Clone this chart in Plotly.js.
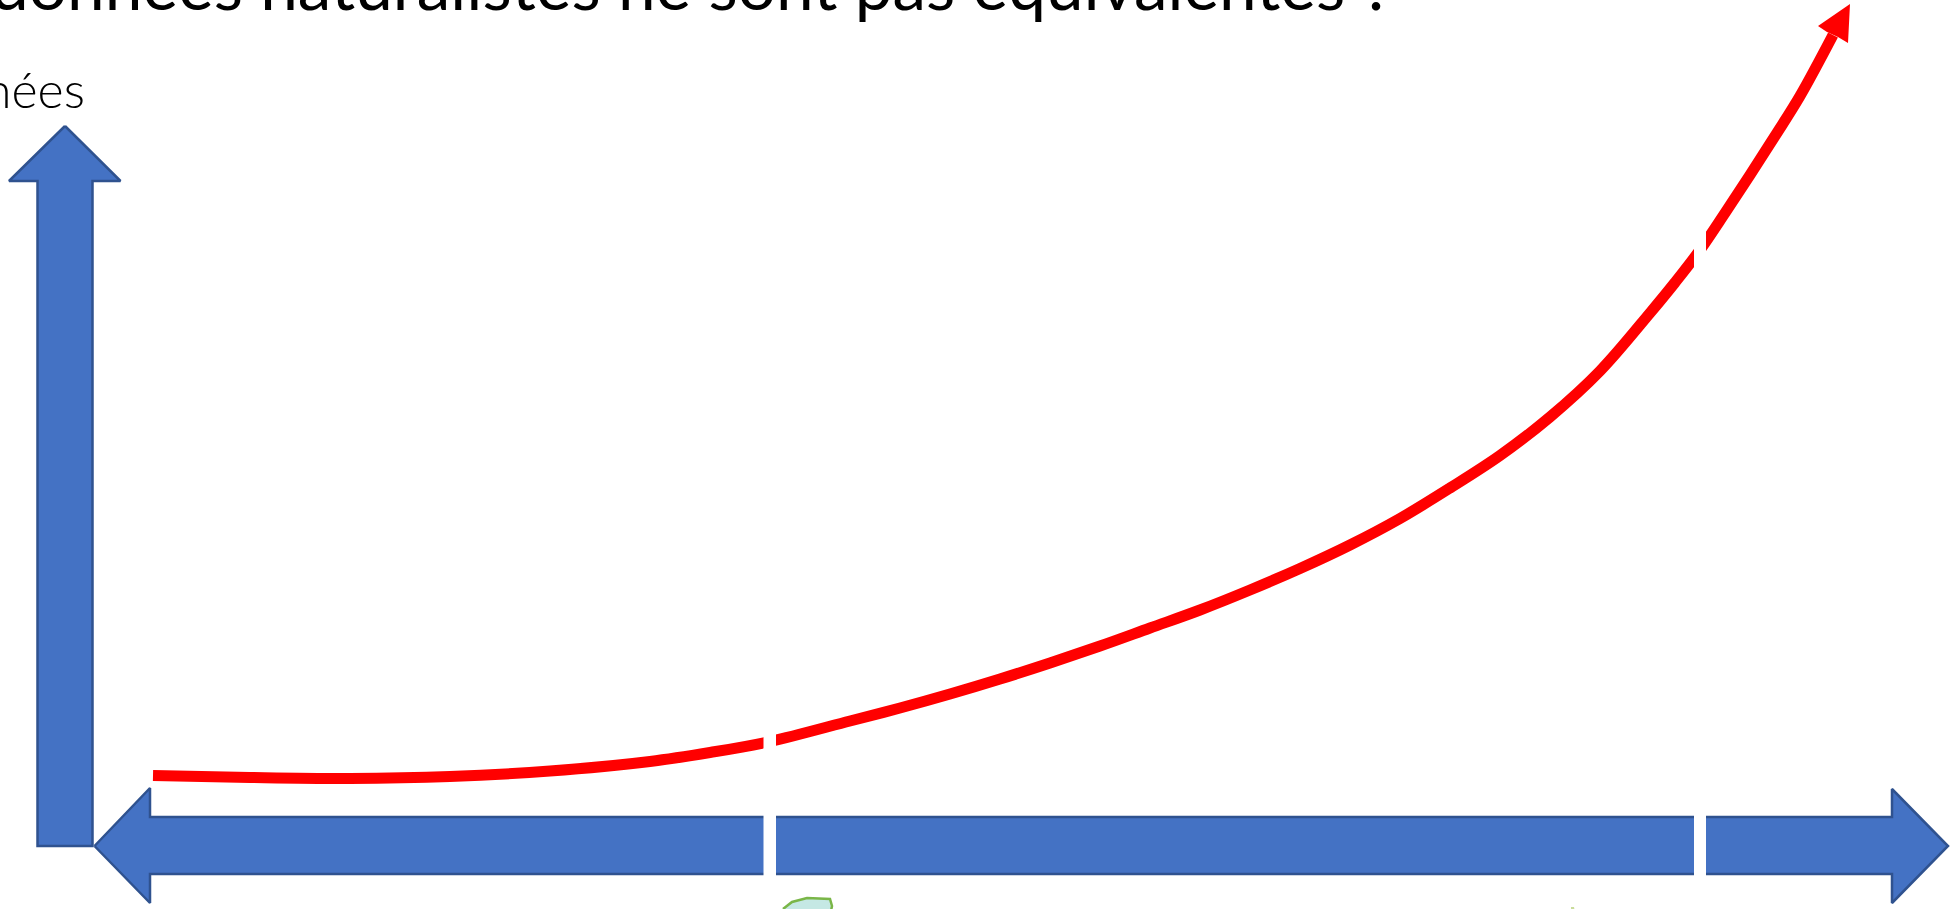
<!DOCTYPE html>
<html lang="fr">
<head>
<meta charset="utf-8">
<script src="https://cdn.plot.ly/plotly-3.0.1.min.js"></script>
<style>html,body{margin:0;padding:0;background:#fff;overflow:hidden}#chart{width:1959px;height:909px}</style>
</head>
<body>
<div id="chart"></div>
<script>
// Growth curve (red) with its arrow head
const curveX = [153, 250, 350, 450, 550, 650, 710, 770, 850, 900, 950, 1000, 1050, 1100, 1150, 1200, 1250, 1300, 1350, 1400, 1450, 1500, 1550, 1600, 1650, 1675, 1700, 1725, 1750, 1775, 1800, 1833];
const curveY = [775.5, 777.5, 778.5, 776.5, 771, 761.5, 752.5, 741.5, 721, 708, 694, 679, 663, 646, 628, 610, 590, 568.5, 545, 518.5, 488, 455.5, 417, 371, 313, 282.5, 250, 213, 175, 136, 96, 35];
const headX = [1850, 1818, 1827, 1838, 1848];
const headY = [4, 26, 32, 37, 43];

// Vertical axis arrow
const yArrowX = [65, 120.5, 92.5, 92.5, 37.5, 37.5, 9, 65];
const yArrowY = [126, 181, 181, 846, 846, 181, 181, 126];

// Double-headed horizontal axis arrow
const xArrowX = [94.5, 150, 150, 1892, 1892, 1948, 1892, 1892, 150, 150, 94.5];
const xArrowY = [846, 788, 817, 817, 789, 846, 903, 874, 874, 903, 846];

// White separators cutting the axis and the curve
const gapAX = [763.5, 776, 776, 763.5, 763.5];
const gapAY = [700, 700, 885, 885, 700];
const gapBX = [1694, 1706, 1706, 1694, 1694];
const gapBY = [220, 220, 885, 885, 220];

// Leaf emblem under the axis, and the tip of a second one
const leafX = [783, 792, 807, 830, 832, 828, 790];
const leafY = [909, 902, 898, 899, 906, 925, 925];
const leafTipX = [1571, 1574, 1575, 1571];
const leafTipY = [907, 907, 912, 912];

const titleText = "données naturalistes ne sont pas équivalentes ?";
const axisText = "Données";

const blue = "#4472c4", blueEdge = "#2f528f", red = "#ff0000";

function poly(x, y, fill, edge, w) {
  return {x, y, mode: "lines", type: "scatter", fill: "toself", fillcolor: fill,
          line: {color: edge, width: w}, hoverinfo: "skip", showlegend: false};
}

const traces = [
  poly(yArrowX, yArrowY, blue, blueEdge, 2.5),
  poly(xArrowX, xArrowY, blue, blueEdge, 2.5),
  {x: curveX, y: curveY, mode: "lines", type: "scatter",
   line: {color: red, width: 11, shape: "spline", smoothing: 1},
   hoverinfo: "skip", showlegend: false},
  poly(headX, headY, red, red, 0),
  poly(gapAX, gapAY, "#ffffff", "#ffffff", 0),
  poly(gapBX, gapBY, "#ffffff", "#ffffff", 0),
  poly(leafX, leafY, "#c5e8e4", "#7ab648", 2.5),
  poly(leafTipX, leafTipY, "#c9dc9a", "#c9dc9a", 0)
];

const layout = {
  width: 1959, height: 909,
  margin: {l: 0, r: 0, t: 0, b: 0},
  paper_bgcolor: "#fff", plot_bgcolor: "#fff",
  xaxis: {range: [0, 1959], visible: false, fixedrange: true},
  yaxis: {range: [909, 0], visible: false, fixedrange: true},
  annotations: [
    {x: 1395, y: 26, xref: "x", yref: "y", xanchor: "right", yanchor: "bottom",
     text: titleText, showarrow: false,
     font: {family: "Lato, 'Open Sans', sans-serif", size: 67.5, color: "#000"}},
    {x: 87, y: 121, xref: "x", yref: "y", xanchor: "right", yanchor: "bottom",
     text: axisText, showarrow: false,
     font: {family: "Lato, 'Open Sans', sans-serif", size: 50, weight: 300, color: "#000"}}
  ]
};

Plotly.newPlot("chart", traces, layout, {displayModeBar: false, staticPlot: true});
</script>
</body>
</html>
